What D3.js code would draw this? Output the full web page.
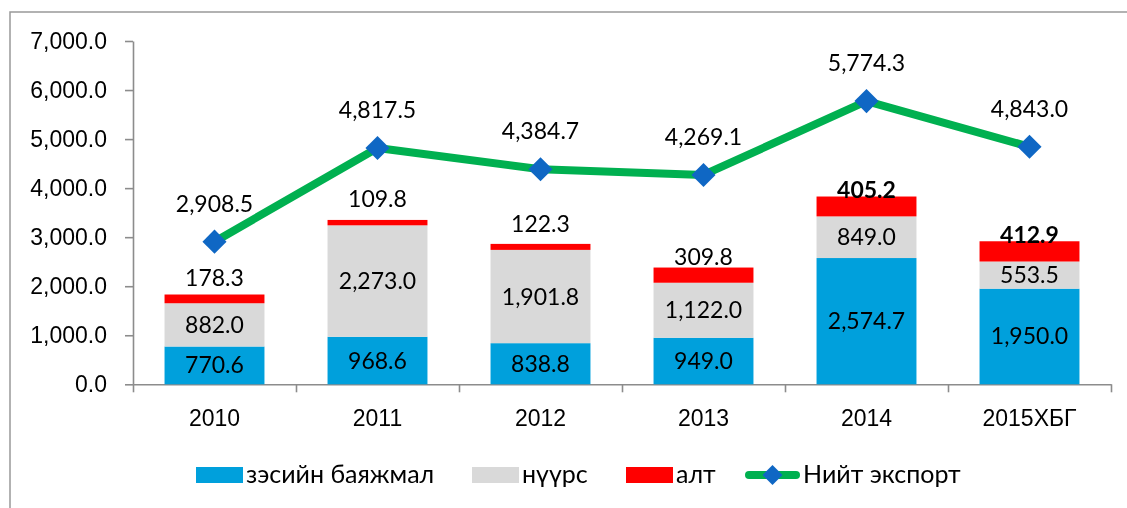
<!DOCTYPE html>
<head>
  <meta charset="utf-8">
  <script src="https://d3js.org/d3.v7.min.js"></script>
  <style>
    body {
      margin:0;position:fixed;top:0;right:0;bottom:0;left:0;
      font-family: Lato, "Open Sans", sans-serif;
      background-color: white;
    }
    .yaxis text, .xaxis text {
      font-size: 23px;
      fill: #000;
    }
    .yaxis path, .yaxis line, .xaxis path, .xaxis line {
      stroke: #8c8c8c;
      stroke-width: 1.6;
    }
    .label {
      font-size: 23px;
      text-anchor: middle;
    }
    .legendText {
      font-size: 25px;
    }
  </style>
</head>

<body>
  <script>
    var years = ["2010", "2011", "2012", "2013", "2014", "2015ХБГ"];
    var copper = [770.6, 968.6, 838.8, 949.0, 2574.7, 1950.0];
    var coal = [882.0, 2273.0, 1901.8, 1122.0, 849.0, 553.5];
    var gold = [178.3, 109.8, 122.3, 309.8, 405.2, 412.9];
    var total = [2908.5, 4817.5, 4384.7, 4269.1, 5774.3, 4843.0];
    var yTicks = [0, 1000, 2000, 3000, 4000, 5000, 6000, 7000];
    var seriesNames = ["зэсийн баяжмал", "нүүрс", "алт", "Нийт экспорт"];

    // the gold labels were placed by hand in the original
    var goldLabelDy = [-9, -13, -12, -3, 1, 2];
    var goldLabelBold = [false, false, false, false, true, true];

    var colors = ["#00a0dc", "#d9d9d9", "#ff0000"];

    var svg = d3.select("body").append("svg")
      .attr("width", 1127)
      .attr("height", 508)

    // chart frame, cut off at right and bottom
    svg.append("rect")
      .attr("x", 10)
      .attr("y", 12)
      .attr("width", 1140)
      .attr("height", 520)
      .style("fill", "none")
      .style("stroke", "#999")
      .style("stroke-width", 1.5)

    // title: only its lowest strokes are left in the picture
    svg.append("text")
      .attr("x", 565)
      .attr("y", -5)
      .attr("text-anchor", "middle")
      .style("font-size", "24px")
      .style("font-weight", "bold")
      .text("Уул уурхайн бүтээгдэхүүний экспорт, сая ам.доллар")

    var x = d3.scaleBand()
      .domain(years)
      .range([133, 1111])
      .paddingInner(0.387)
      .paddingOuter(0.1935)

    var xEdge = d3.scaleLinear()
      .domain([0, years.length])
      .range([133, 1111])

    var y = d3.scaleLinear()
      .domain([0, 7000])
      .range([384.3, 41])

    var stackData = years.map(function(yr, i) {
      return {year: yr, copper: copper[i], coal: coal[i], gold: gold[i], i: i};
    });
    var stack = d3.stack().keys(["copper", "coal", "gold"]);
    var layers = stack(stackData);

    svg.append("g")
      .attr("class", "yaxis")
      .attr("transform", "translate(133, 0)")
      .call(d3.axisLeft(y).tickValues(yTicks).tickFormat(d3.format(",.1f")).tickSize(8).tickPadding(18).tickSizeOuter(0))

    svg.append("g")
      .attr("class", "xaxis")
      .attr("transform", "translate(0, 384.3)")
      .call(d3.axisBottom(xEdge).tickValues(d3.range(years.length + 1)).tickFormat("").tickSize(8).tickSizeOuter(0))

    var xl = svg.append("g")
      .attr("class", "xaxis")
      .attr("transform", "translate(0, 384.3)")
      .call(d3.axisBottom(x).tickSize(0).tickPadding(25))
    xl.select(".domain").remove()

    var layer = svg.selectAll(".layer").data(layers).enter()
      .append("g")
      .attr("class", "layer")
      .style("fill", function(d, i) { return colors[i]; })

    layer.selectAll("rect").data(function(d) { return d; }).enter()
      .append("rect")
      .attr("x", function(d) { return x(d.data.year); })
      .attr("width", x.bandwidth())
      .attr("y", function(d) { return y(d[1]); })
      .attr("height", function(d) { return y(d[0]) - y(d[1]); })

    // labels inside copper and coal segments
    layers.slice(0, 2).forEach(function(l) {
      svg.selectAll(null).data(l).enter()
        .append("text")
        .attr("class", "label")
        .attr("x", function(d) { return x(d.data.year) + x.bandwidth() / 2; })
        .attr("y", function(d) { return (y(d[0]) + y(d[1])) / 2 + 8; })
        .text(function(d) { return d3.format(",.1f")(d[1] - d[0]); })
    });

    // gold labels above the bars
    svg.selectAll(null).data(layers[2]).enter()
      .append("text")
      .attr("class", "label")
      .attr("x", function(d) { return x(d.data.year) + x.bandwidth() / 2; })
      .attr("y", function(d, i) { return y(d[1]) + goldLabelDy[i]; })
      .style("font-weight", function(d, i) { return goldLabelBold[i] ? "bold" : "normal"; })
      .text(function(d) { return d3.format(",.1f")(d[1] - d[0]); })

    // total export line
    var line = d3.line()
      .x(function(d, i) { return x(years[i]) + x.bandwidth() / 2; })
      .y(function(d) { return y(d); })

    svg.append("path")
      .datum(total)
      .attr("d", line)
      .style("fill", "none")
      .style("stroke", "#00b050")
      .style("stroke-width", 8)
      .style("stroke-linejoin", "round")

    var diamond = d3.symbol().type(d3.symbolSquare).size(290);

    svg.selectAll(".mark").data(total).enter()
      .append("path")
      .attr("class", "mark")
      .attr("d", diamond)
      .attr("transform", function(d, i) {
        return "translate(" + (x(years[i]) + x.bandwidth() / 2) + "," + y(d) + ") rotate(45)";
      })
      .style("fill", "#0f67c4")

    svg.selectAll(".totalLabel").data(total).enter()
      .append("text")
      .attr("class", "label totalLabel")
      .attr("x", function(d, i) { return x(years[i]) + x.bandwidth() / 2; })
      .attr("y", function(d) { return y(d) - 30; })
      .text(function(d) { return d3.format(",.1f")(d); })

    // legend
    var legendX = [196, 472, 626];
    var legend = svg.append("g")
      .attr("transform", "translate(0, 475)")

    legend.selectAll("rect").data(colors).enter()
      .append("rect")
      .attr("x", function(d, i) { return legendX[i]; })
      .attr("y", -8)
      .attr("width", 47)
      .attr("height", 16)
      .style("fill", function(d) { return d; })

    legend.selectAll("text").data(seriesNames).enter()
      .append("text")
      .attr("class", "legendText")
      .attr("x", function(d, i) { return i < 3 ? legendX[i] + 50 : 803; })
      .attr("y", 8)
      .text(function(d) { return d; })

    legend.append("line")
      .attr("x1", 749)
      .attr("x2", 796)
      .attr("y1", 0)
      .attr("y2", 0)
      .style("stroke", "#00b050")
      .style("stroke-width", 8)
      .style("stroke-linecap", "round")

    legend.append("path")
      .attr("d", d3.symbol().type(d3.symbolSquare).size(200))
      .attr("transform", "translate(772.5, 0) rotate(45)")
      .style("fill", "#0f67c4")
  </script>
</body>
